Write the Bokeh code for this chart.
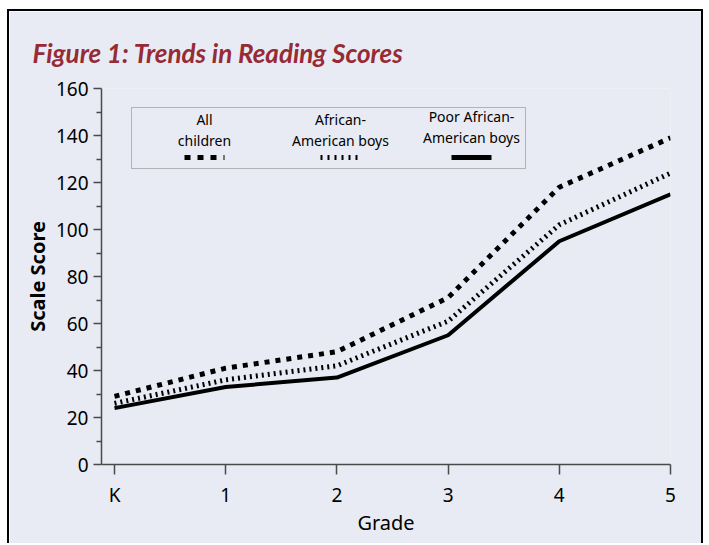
from bokeh.plotting import figure
from bokeh.models import (Range1d, FixedTicker, Label, Arrow, BoxAnnotation)
from bokeh.embed import file_html
from bokeh.resources import INLINE

grades = [0, 1, 2, 3, 4, 5]
grade_labels = ["K", "1", "2", "3", "4", "5"]
all_children = [29, 41, 48, 71, 118, 139]
aa_boys = [26, 36, 42, 61, 102, 124]
poor_aa_boys = [24, 33, 37, 55, 95, 115]
y_ticks = [0, 20, 40, 60, 80, 100, 120, 140, 160]
y_minor = [10, 30, 50, 70, 90, 110, 130, 150]

BG = "#e8ebf3"
FONT = "Noto Sans"

p = figure(width=696, height=534, output_backend="svg", toolbar_location=None,
           x_range=Range1d(-0.117, 5), y_range=Range1d(0, 160),
           min_border_left=92, min_border_right=35, min_border_top=77, min_border_bottom=81,
           title="Figure 1: Trends in Reading Scores")
p.styles = {"margin-left": "7px", "margin-top": "9px",
            "border-top": "2px solid black", "border-left": "2px solid black",
            "border-right": "2px solid black"}
p.background_fill_color = BG
p.border_fill_color = BG
p.outline_line_color = None
p.grid.visible = False

p.title.align = "left"
p.title.vertical_align = "top"
p.title.offset = -69
p.title.standoff = 36
p.title.text_font = "Lato"
p.title.text_font_size = "26px"
p.title.text_font_style = "bold italic"
p.title.text_color = "#962a35"

p.line(grades, all_children, line_color="black", line_width=5, line_dash="5 6")
p.line(grades, aa_boys, line_color="black", line_width=5, line_dash="2 4")
p.line(grades, poor_aa_boys, line_color="black", line_width=4)

AX = "#4a4a4a"
for ax in (p.xaxis[0], p.yaxis[0]):
    ax.axis_line_color = AX
    ax.axis_line_width = 1.5
    ax.major_tick_line_color = AX
    ax.major_tick_line_width = 1.5
    ax.minor_tick_line_color = AX
    ax.minor_tick_line_width = 1.5
    ax.major_tick_in = 0
    ax.minor_tick_in = 0
    ax.major_label_text_font = FONT
    ax.major_label_text_font_size = "19px"
    ax.major_label_text_color = "black"
    ax.axis_label_text_font = FONT
    ax.axis_label_text_color = "black"

p.xaxis.ticker = FixedTicker(ticks=grades)
p.xaxis.major_label_overrides = {g: l for g, l in zip(grades, grade_labels)}
p.xaxis.major_tick_out = 10
p.xaxis.minor_tick_out = 0
p.xaxis.major_label_standoff = 7
p.xaxis.axis_label = "Grade"
p.xaxis.axis_label_text_font_size = "20px"
p.xaxis.axis_label_text_font_style = "normal"
p.xaxis.axis_label_standoff = -2

p.yaxis.ticker = FixedTicker(ticks=y_ticks, minor_ticks=y_minor)
p.yaxis.major_tick_out = 8
p.yaxis.minor_tick_out = 5
p.yaxis.major_label_standoff = 5
p.yaxis.axis_label = "Scale Score"
p.yaxis.axis_label_text_font_size = "20px"
p.yaxis.axis_label_text_font_style = "bold"
p.yaxis.axis_label_standoff = 2

# legend (screen units are relative to the plot frame, y upward)
p.add_layout(BoxAnnotation(left=30, right=424, top=357, bottom=296,
                           left_units="screen", right_units="screen",
                           top_units="screen", bottom_units="screen",
                           fill_color=None, line_color="#333333", line_width=1))

legend_items = [
    (["All", "children"], 103, 345, 324, "6 7", 5),
    (["African-", "American boys"], 239, 345, 324, "2 5", 5),
    (["Poor African-", "American boys"], 370, 348, 327, "solid", 5),
]
for lines, cx, y1, y2, dash, lw in legend_items:
    p.add_layout(Label(x=cx, y=y1, x_units="screen", y_units="screen", text=lines[0],
                       text_align="center", text_baseline="alphabetic", text_font=FONT,
                       text_font_size="14px", text_color="black"))
    p.add_layout(Label(x=cx, y=y2, x_units="screen", y_units="screen", text=lines[1],
                       text_align="center", text_baseline="alphabetic", text_font=FONT,
                       text_font_size="14px", text_color="black"))
    p.add_layout(Arrow(x_start=cx - 20, x_end=cx + 20, y_start=307, y_end=307,
                       start_units="screen", end_units="screen", end=None,
                       line_color="black", line_width=lw, line_dash=dash))

open("out.html", "w").write(file_html(p, INLINE))
